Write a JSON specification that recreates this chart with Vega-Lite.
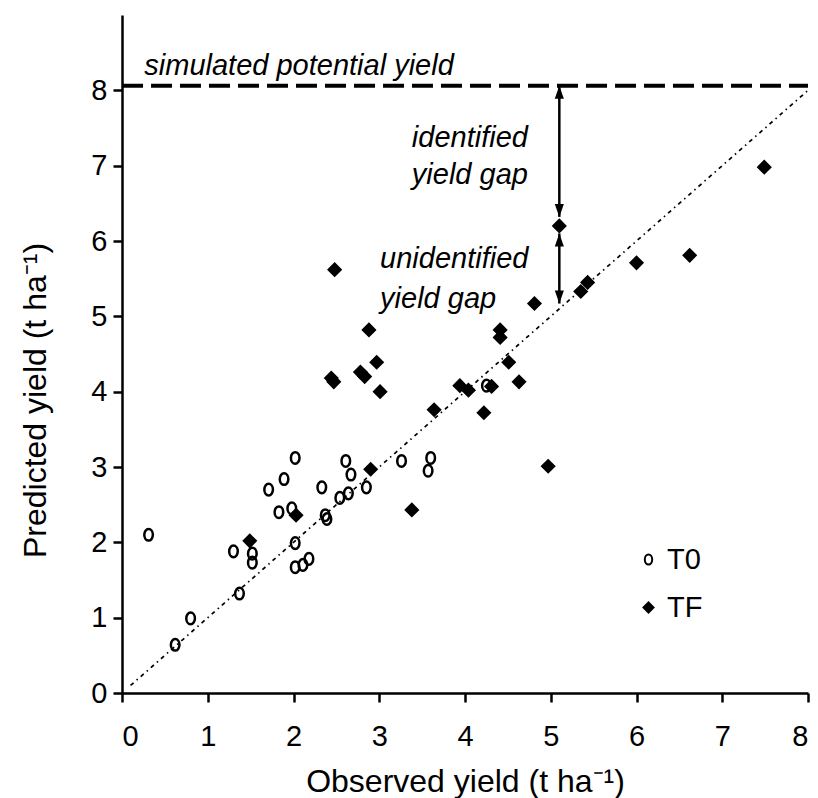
{
  "$schema": "https://vega.github.io/schema/vega-lite/v6.json",
  "width": 686,
  "height": 678,
  "autosize": "none",
  "padding": {"left": 122, "top": 15, "right": 10, "bottom": 105},
  "background": "white",
  "config": {
    "font": "Liberation Sans",
    "view": {"stroke": null},
    "axis": {
      "grid": false,
      "domainColor": "black",
      "domainWidth": 2.5,
      "tickColor": "black",
      "tickWidth": 2.5,
      "tickSize": 9,
      "labelColor": "black",
      "labelFontSize": 29,
      "labelFont": "Liberation Sans",
      "titleFont": "Liberation Sans",
      "titleFontSize": 32,
      "titleFontWeight": "normal",
      "titleColor": "black"
    },
    "legend": {
      "labelFontSize": 29,
      "labelFont": "Liberation Sans",
      "labelColor": "black",
      "symbolStrokeWidth": 2
    }
  },
  "datasets": {
    "yields": [
      {"observed": 0.31, "predicted": 2.10, "treatment": "T0"},
      {"observed": 0.62, "predicted": 0.64, "treatment": "T0"},
      {"observed": 0.80, "predicted": 0.99, "treatment": "T0"},
      {"observed": 1.37, "predicted": 1.32, "treatment": "T0"},
      {"observed": 1.30, "predicted": 1.88, "treatment": "T0"},
      {"observed": 1.52, "predicted": 1.85, "treatment": "T0"},
      {"observed": 1.52, "predicted": 1.73, "treatment": "T0"},
      {"observed": 1.83, "predicted": 2.40, "treatment": "T0"},
      {"observed": 1.71, "predicted": 2.70, "treatment": "T0"},
      {"observed": 1.89, "predicted": 2.84, "treatment": "T0"},
      {"observed": 2.02, "predicted": 3.12, "treatment": "T0"},
      {"observed": 1.98, "predicted": 2.45, "treatment": "T0"},
      {"observed": 2.02, "predicted": 1.99, "treatment": "T0"},
      {"observed": 2.02, "predicted": 1.67, "treatment": "T0"},
      {"observed": 2.11, "predicted": 1.70, "treatment": "T0"},
      {"observed": 2.18, "predicted": 1.78, "treatment": "T0"},
      {"observed": 2.33, "predicted": 2.73, "treatment": "T0"},
      {"observed": 2.39, "predicted": 2.31, "treatment": "T0"},
      {"observed": 2.37, "predicted": 2.36, "treatment": "T0"},
      {"observed": 2.54, "predicted": 2.59, "treatment": "T0"},
      {"observed": 2.64, "predicted": 2.65, "treatment": "T0"},
      {"observed": 2.61, "predicted": 3.08, "treatment": "T0"},
      {"observed": 2.67, "predicted": 2.90, "treatment": "T0"},
      {"observed": 2.85, "predicted": 2.73, "treatment": "T0"},
      {"observed": 3.26, "predicted": 3.08, "treatment": "T0"},
      {"observed": 3.60, "predicted": 3.12, "treatment": "T0"},
      {"observed": 3.57, "predicted": 2.95, "treatment": "T0"},
      {"observed": 4.25, "predicted": 4.08, "treatment": "T0"},
      {"observed": 1.49, "predicted": 2.02, "treatment": "TF"},
      {"observed": 2.03, "predicted": 2.36, "treatment": "TF"},
      {"observed": 2.90, "predicted": 2.97, "treatment": "TF"},
      {"observed": 2.48, "predicted": 5.62, "treatment": "TF"},
      {"observed": 2.88, "predicted": 4.82, "treatment": "TF"},
      {"observed": 2.97, "predicted": 4.39, "treatment": "TF"},
      {"observed": 2.78, "predicted": 4.26, "treatment": "TF"},
      {"observed": 2.83, "predicted": 4.20, "treatment": "TF"},
      {"observed": 2.44, "predicted": 4.18, "treatment": "TF"},
      {"observed": 2.47, "predicted": 4.13, "treatment": "TF"},
      {"observed": 3.01, "predicted": 4.00, "treatment": "TF"},
      {"observed": 4.81, "predicted": 5.17, "treatment": "TF"},
      {"observed": 4.41, "predicted": 4.82, "treatment": "TF"},
      {"observed": 4.41, "predicted": 4.72, "treatment": "TF"},
      {"observed": 4.51, "predicted": 4.39, "treatment": "TF"},
      {"observed": 4.63, "predicted": 4.13, "treatment": "TF"},
      {"observed": 3.94, "predicted": 4.08, "treatment": "TF"},
      {"observed": 4.04, "predicted": 4.02, "treatment": "TF"},
      {"observed": 4.31, "predicted": 4.07, "treatment": "TF"},
      {"observed": 4.22, "predicted": 3.72, "treatment": "TF"},
      {"observed": 3.64, "predicted": 3.76, "treatment": "TF"},
      {"observed": 4.97, "predicted": 3.01, "treatment": "TF"},
      {"observed": 3.38, "predicted": 2.43, "treatment": "TF"},
      {"observed": 5.10, "predicted": 6.20, "treatment": "TF"},
      {"observed": 5.35, "predicted": 5.33, "treatment": "TF"},
      {"observed": 5.43, "predicted": 5.45, "treatment": "TF"},
      {"observed": 6.00, "predicted": 5.71, "treatment": "TF"},
      {"observed": 6.62, "predicted": 5.81, "treatment": "TF"},
      {"observed": 7.49, "predicted": 6.98, "treatment": "TF"}
    ]
  },
  "encoding": {
    "x": {
      "field": "observed", "type": "quantitative",
      "scale": {"domain": [0, 8]},
      "axis": {"values": [0, 1, 2, 3, 4, 5, 6, 7, 8], "labelPadding": 20, "title": "Observed yield (t ha⁻¹)", "titlePadding": 15}
    },
    "y": {
      "field": "predicted", "type": "quantitative",
      "scale": {"domain": [0, 9]},
      "axis": {"values": [0, 1, 2, 3, 4, 5, 6, 7, 8], "labelPadding": 6, "title": "Predicted yield (t ha⁻¹)", "titleX": -87, "titleY": 385, "titleBaseline": "middle", "titleAngle": -90}
    }
  },
  "layer": [
    {
      "description": "Simulated potential yield level",
      "data": {"values": [{"observed": 0, "observed_end": 8, "predicted": 8.06}]},
      "mark": {"type": "rule", "strokeDash": [21, 8], "strokeWidth": 4, "color": "black"},
      "encoding": {"x2": {"field": "observed_end"}}
    },
    {
      "description": "1:1 line",
      "data": {"values": [{"observed": 0.1, "predicted": 0.1}, {"observed": 8, "predicted": 8}]},
      "mark": {"type": "line", "strokeDash": [4, 4, 1.5, 4], "strokeWidth": 1.7, "color": "black"},
      "encoding": {}
    },
    {
      "description": "Yield gap arrows",
      "data": {"values": [
        {"observed": 5.1, "predicted": 8.06, "predicted_end": 6.32},
        {"observed": 5.1, "predicted": 6.10, "predicted_end": 5.17}
      ]},
      "mark": {"type": "rule", "strokeWidth": 2.5, "color": "black"},
      "encoding": {"y2": {"field": "predicted_end"}}
    },
    {
      "description": "Upward arrow heads",
      "data": {"values": [
        {"observed": 5.1, "predicted": 8.06},
        {"observed": 5.1, "predicted": 6.10}
      ]},
      "mark": {"type": "point", "filled": true, "color": "black", "size": 169, "opacity": 1, "shape": "M0,0L0.7,2L-0.7,2Z"},
      "encoding": {}
    },
    {
      "description": "Downward arrow heads",
      "data": {"values": [
        {"observed": 5.1, "predicted": 6.32},
        {"observed": 5.1, "predicted": 5.17}
      ]},
      "mark": {"type": "point", "filled": true, "color": "black", "size": 169, "opacity": 1, "shape": "M0,0L0.7,-2L-0.7,-2Z"},
      "encoding": {}
    },
    {
      "description": "Observed vs predicted yields",
      "data": {"name": "yields"},
      "mark": {"type": "point", "filled": true, "strokeWidth": 2.5, "opacity": 1, "size": 135},
      "encoding": {
        "shape": {
          "field": "treatment", "type": "nominal",
          "scale": {"domain": ["T0", "TF"], "range": ["M0,-1A0.74,1 0 1,1 0,1A0.74,1 0 1,1 0,-1Z", "diamond"]},
          "legend": {"orient": "none", "legendX": 512, "legendY": 530, "title": null, "padding": 0, "rowPadding": 18, "labelOffset": 4, "symbolSize": 100}
        },
        "fill": {
          "field": "treatment", "type": "nominal",
          "scale": {"domain": ["T0", "TF"], "range": ["transparent", "black"]},
          "legend": {"orient": "none", "legendX": 512, "legendY": 530, "title": null, "padding": 0, "rowPadding": 18, "labelOffset": 4, "symbolSize": 100}
        },
        "stroke": {
          "field": "treatment", "type": "nominal",
          "scale": {"domain": ["T0", "TF"], "range": ["black", "black"]},
          "legend": {"orient": "none", "legendX": 512, "legendY": 530, "title": null, "padding": 0, "rowPadding": 18, "labelOffset": 4, "symbolSize": 100}
        }
      }
    },
    {
      "description": "Annotations",
      "data": {"values": [
        {"observed": 0.26, "predicted": 8.21, "note": "simulated potential yield"},
        {"observed": 3.38, "predicted": 7.25, "note": "identified"},
        {"observed": 3.38, "predicted": 6.76, "note": "yield gap"},
        {"observed": 3.01, "predicted": 5.64, "note": "unidentified"},
        {"observed": 3.01, "predicted": 5.11, "note": "yield gap"}
      ]},
      "mark": {"type": "text", "align": "left", "baseline": "alphabetic", "fontStyle": "italic", "fontSize": 29, "color": "black", "font": "Liberation Sans"},
      "encoding": {"text": {"field": "note"}}
    }
  ]
}
